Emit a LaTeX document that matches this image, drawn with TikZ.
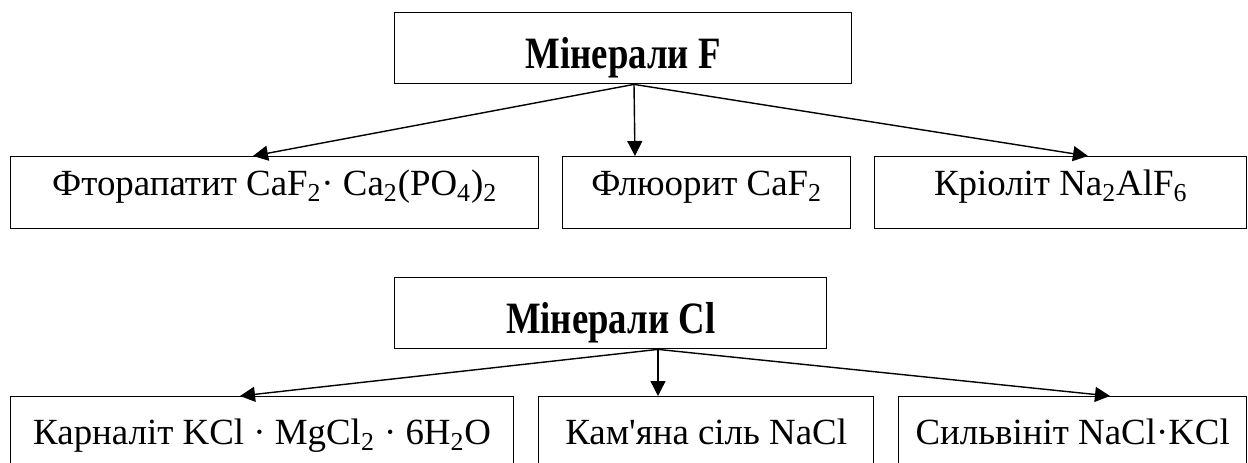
\documentclass[tikz,border=0pt]{standalone}
\usepackage{fontspec}
\setmainfont{Liberation Serif}[Ligatures=TeXOff]
\newfontfamily\titlefont{Liberation Serif}[FakeStretch=0.82, Ligatures=TeXOff]
\usetikzlibrary{arrows.meta}

\begin{document}
\begin{tikzpicture}[
    x=0.02cm, y=-0.02cm,
    every node/.append style={font=\fontsize{21}{25}\selectfont},
  ]

  \tikzset{
    mineral-box/.style={
      draw, line width=0.8pt, anchor=north west,
      inner xsep=0pt, inner ysep=0pt,
    },
    group-box/.style={
      mineral-box, font=\titlefont\fontsize{25.5}{30}\selectfont\bfseries,
      text height=1.12cm, text depth=0.3cm,
    },
    upper-row/.style={mineral-box, text height=0.78cm, text depth=0.66cm},
    lower-row/.style={mineral-box, text height=0.96cm, text depth=0.6cm},
    branch/.style={
      -{Triangle[length=0.3cm, width=0.3cm]},
      line width=0.8pt,
    },
  }

  \useasboundingbox (0,0) rectangle (1248,463);

  %% ---------------- FLUORINE MINERALS ----------------
  \node[group-box, minimum width=9.14cm] (minF) at (394,12) {Мінерали F};
  % the three minerals
  \node[upper-row, minimum width=10.56cm] (apatit) at (10,156)
    {Фторапатит CaF\textsubscript{2}· Ca\textsubscript{2}(PO\textsubscript{4})\textsubscript{2}};
  \node[upper-row, minimum width=5.76cm] (fluorit) at (562,156)
    {Флюорит CaF\textsubscript{2}};
  \node[upper-row, minimum width=7.44cm] (kriolit) at (874,156)
    {Кріоліт Na\textsubscript{2}AlF\textsubscript{6}};
  % arrows from the group box
  \coordinate (f-out) at (minF.south -| 634,0);
  \foreach \tgt/\x in {apatit/253, fluorit/635, kriolit/1088}
    \draw[branch] (f-out) -- (\tgt.north -| \x,0);

  %% ---------------- CHLORINE MINERALS ----------------
  \node[group-box, minimum width=8.64cm] (minCl) at (394,277) {Мінерали Cl};
  % the three minerals
  \node[lower-row, minimum width=10.06cm] (karnalit) at (10,396)
    {Карналіт KCl · MgCl\textsubscript{2} · 6H\textsubscript{2}O};
  \node[lower-row, minimum width=6.70cm] (kamsil) at (538,396)
    {Кам'яна сіль NaCl};
  \node[lower-row, minimum width=6.96cm] (sylvinit) at (898,396)
    {Сильвініт NaCl·KCl};
  % arrows from the group box
  \coordinate (cl-out) at (minCl.south -| 658,0);
  \foreach \tgt/\x in {karnalit/240, kamsil/658, sylvinit/1110}
    \draw[branch] (cl-out) -- (\tgt.north -| \x,0);

\end{tikzpicture}
\end{document}
